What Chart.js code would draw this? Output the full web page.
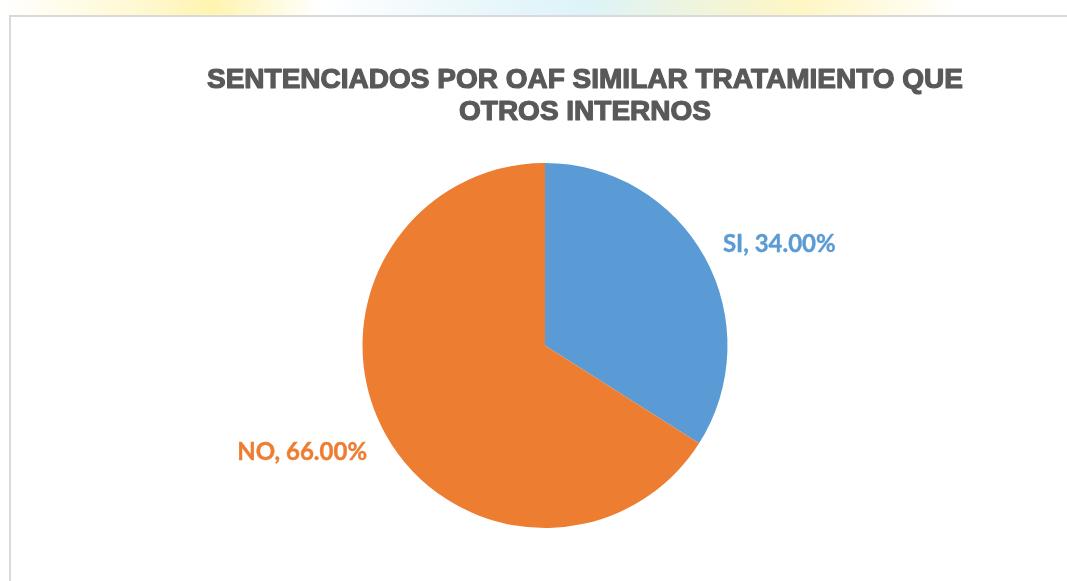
<!DOCTYPE html>
<html>
<head>
<meta charset="utf-8">
<script src="https://cdn.jsdelivr.net/npm/chart.js@4/dist/chart.umd.min.js"></script>
<style>
  html, body { margin: 0; padding: 0; background: #fff; }
  body { width: 1067px; height: 581px; position: relative; overflow: hidden; }
  .strip {
    position: absolute; left: 0; top: 0; width: 1067px; height: 15px;
    background: linear-gradient(90deg, #ffffff 0%, #fff9d6 12%, #fff4b0 20%, #ffffff 30%,
      #e9f7fb 45%, #ddf3f8 55%, #fff6c4 75%, #ffffff 90%);
  }
  .box {
    position: absolute; left: 9px; top: 15px; width: 1100px; height: 600px;
    border: 2px solid #d9d9d9; background: #fff;
  }
  canvas { position: absolute; left: 0; top: 0; }
</style>
</head>
<body>
<div class="strip"></div>
<div class="box"></div>
<canvas id="chart" width="1067" height="581"></canvas>
<script>
const titleLines = ['SENTENCIADOS POR OAF SIMILAR TRATAMIENTO QUE', 'OTROS INTERNOS'];
const categories = ['SI', 'NO'];
const percentages = [34.0, 66.0];
const colors = ['#5B9BD5', '#ED7D31'];

// title and outside labels, Excel style
const excelDecor = {
  id: 'excelDecor',
  afterDraw(chart) {
    const ctx = chart.ctx;
    ctx.save();
    ctx.fillStyle = '#595959';
    ctx.strokeStyle = '#595959';
    ctx.lineWidth = 1.2;
    ctx.lineJoin = 'round';
    ctx.font = 'bold 28px "Liberation Sans", Arial, sans-serif';
    ctx.textAlign = 'center';
    ctx.textBaseline = 'middle';
    titleLines.forEach((line, i) => {
      ctx.fillText(line, 585, 80 + i * 32);
      ctx.strokeText(line, 585, 80 + i * 32);
    });

    const meta = chart.getDatasetMeta(0);
    ctx.font = 'bold 24px Lato, "Liberation Sans", sans-serif';
    meta.data.forEach((arc, i) => {
      const p = arc.getProps(['x', 'y', 'startAngle', 'endAngle', 'outerRadius'], true);
      const mid = (p.startAngle + p.endAngle) / 2;
      const ex = p.x + Math.cos(mid) * p.outerRadius;
      const ey = p.y + Math.sin(mid) * p.outerRadius;
      const right = Math.cos(mid) >= 0;
      ctx.textAlign = right ? 'left' : 'right';
      ctx.fillStyle = colors[i];
      ctx.strokeStyle = colors[i];
      ctx.lineWidth = 0.4;
      const text = categories[i] + ', ' + percentages[i].toFixed(2) + '%';
      const tx = ex + (right ? 18 : -18);
      const ty = ey + Math.sin(mid) * 33 + 3;
      ctx.fillText(text, tx, ty);
      ctx.strokeText(text, tx, ty);
    });
    ctx.restore();
  }
};

new Chart(document.getElementById('chart'), {
  type: 'pie',
  data: {
    labels: categories,
    datasets: [{
      data: percentages,
      backgroundColor: colors,
      borderWidth: 0
    }]
  },
  options: {
    responsive: false,
    animation: false,
    layout: { padding: { top: 163, bottom: 53, left: 300, right: 277 } },
    plugins: {
      legend: { display: false },
      tooltip: { enabled: false },
      title: { display: false }
    }
  },
  plugins: [excelDecor]
});
</script>
</body>
</html>
